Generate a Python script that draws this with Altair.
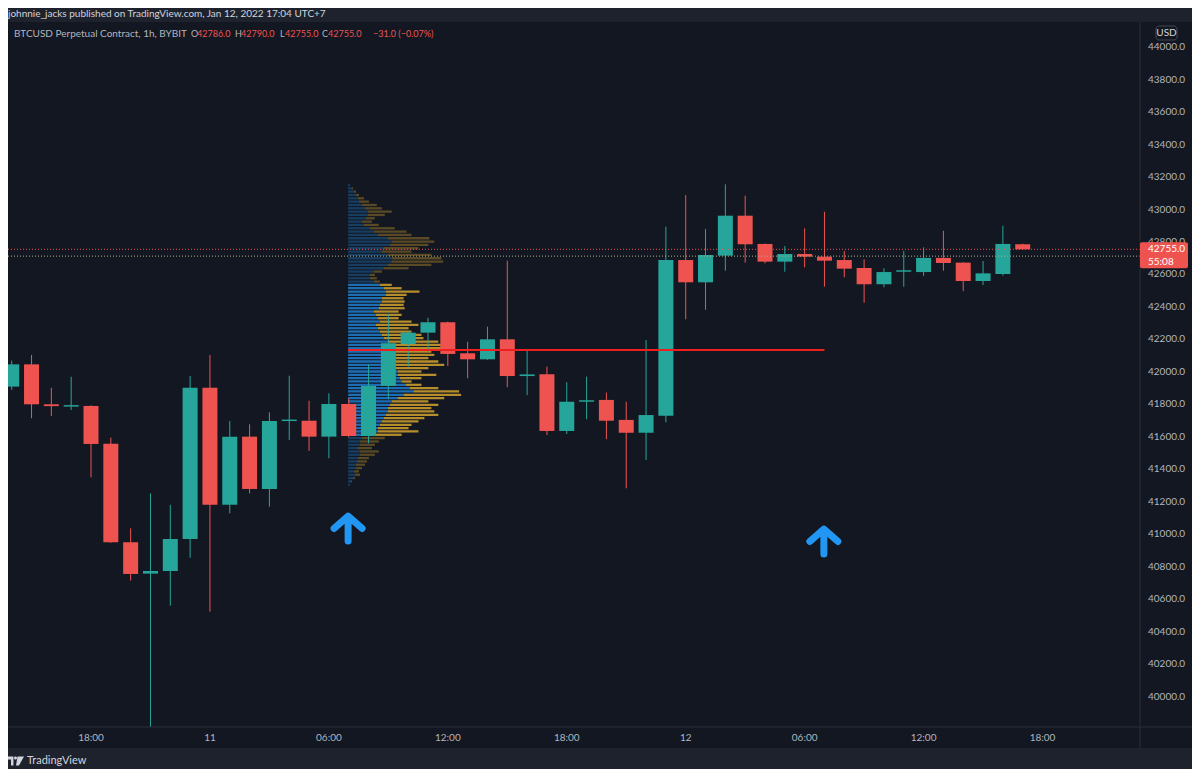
import altair as alt
import pandas as pd

# ------------------------------------------------------------------ data
# hour index relative to 2022-01-11 00:00 (UTC+7), 1h candles
hours = list(range(-10, 42))
opens = [41910, 42047, 41801, 41787, 41791, 41559, 40952, 40759, 40775, 40972,
         41903, 41183, 41602, 41280, 41698, 41700, 41602, 41803, 41606, 41914,
         42172, 42242, 42306, 42115, 42078, 42201, 41975, 41986, 41637, 41817,
         41828, 41705, 41626, 41731, 42689, 42552, 42716, 42962, 42788, 42679,
         42726, 42710, 42689, 42640, 42540, 42617, 42615, 42702, 42673, 42560,
         42603, 42786]
highs = [42070, 42105, 41903, 41971, 41795, 41596, 41038, 41253, 41182, 41975,
         42105, 41698, 41678, 41752, 41977, 41823, 41869, 41838, 42047, 42357,
         42250, 42334, 42310, 42186, 42279, 42685, 42131, 42033, 41937, 41971,
         41873, 41817, 42197, 42894, 43089, 42880, 43155, 43085, 42790, 42775,
         42884, 42986, 42745, 42693, 42638, 42745, 42767, 42869, 42675, 42683,
         42900, 42790]
lows = [41890, 41715, 41729, 41766, 41352, 40948, 40716, 39790, 40562, 40857,
        40525, 41130, 41253, 41171, 41582, 41514, 41469, 41600, 41561, 41832,
        42033, 42125, 42037, 41961, 42075, 41906, 41858, 41612, 41618, 41709,
        41586, 41284, 41458, 41690, 42324, 42382, 42623, 42673, 42669, 42617,
        42644, 42525, 42583, 42426, 42521, 42525, 42591, 42623, 42498, 42535,
        42593, 42755]
closes = [42047, 41801, 41790, 41793, 41557, 40952, 40757, 40775, 40972, 41903,
          41183, 41602, 41280, 41698, 41705, 41602, 41803, 41606, 41914, 42177,
          42242, 42306, 42111, 42078, 42201, 41975, 41985, 41637, 41817, 41822,
          41700, 41626, 41735, 42689, 42552, 42720, 42962, 42786, 42679, 42726,
          42710, 42685, 42636, 42540, 42615, 42620, 42702, 42671, 42560, 42607,
          42788, 42755]

time_tick_hours = [-6, 0, 6, 12, 18, 24, 30, 36, 42]
time_tick_labels = ["18:00", "11", "06:00", "12:00", "18:00", "12", "06:00", "12:00", "18:00"]
price_ticks = [40000, 40200, 40400, 40600, 40800, 41000, 41200, 41400, 41600, 41800,
               42000, 42200, 42400, 42600, 42800, 43000, 43200, 43400, 43600, 43800, 44000]

# visible-range volume profile (top row first), total and up volume per row
profile_total = [2, 5, 8, 11, 16, 21, 29, 34, 44, 37, 27, 24, 31, 47, 59, 64, 82, 87, 81, 71,
                 64, 84, 94, 96, 84, 61, 34, 27, 29, 32,
                 44, 54, 72, 59, 56, 57, 56, 57, 51, 54, 51, 64, 71, 61, 64, 74, 76,
                 91, 94, 94, 84, 87, 81, 91, 97, 81, 74, 89, 74, 64, 74, 91, 112, 114, 97,
                 81, 91, 84, 87, 91, 77, 71, 64, 61, 71, 54,
                 37, 31, 27, 24, 31, 27, 21, 19, 17, 14, 11, 12, 7, 4, 2]
profile_up = [2, 4, 6, 8, 10, 11, 14, 17, 20, 20, 18, 14, 16, 22, 26, 30, 40, 44, 42, 36,
              34, 40, 44, 44, 40, 36, 26, 22, 22, 26,
              32, 36, 38, 38, 34, 34, 32, 31, 26, 28, 30, 32, 28, 30, 32, 34, 36,
              40, 44, 46, 48, 48, 46, 44, 46, 48, 50, 50, 52, 54, 58, 62, 66, 56, 50,
              44, 42, 40, 40, 38, 36, 34, 32, 30, 30, 28,
              14, 12, 12, 10, 12, 12, 10, 9, 8, 8, 6, 7, 5, 3, 2]
PROFILE_TOP = 43151
PROFILE_ROW = 20.5
VA_HIGH, VA_LOW = 42545, 41600
PROFILE_START = 6.97
VOL_TO_HOURS = 0.05

poc = [{"t0": 6.97, "t1": 31.0, "p": 42135}]
price_lines = [{"p": 42755, "c": "#ef5350"}, {"p": 42713, "c": "#b3ac85"}]
arrows = [{"t": 6.97, "p": 41037}, {"t": 30.97, "p": 40957}]
last_price = [{"p": 42755, "l1": "42755.0", "l2": "55:08"}]

header_text = "johnnie_jacks published on TradingView.com, Jan 12, 2022 17:04 UTC+7"
legend_segments = [
    ("BTCUSD Perpetual Contract, 1h, BYBIT", "#b2b5be", 6, 10),
    ("O", "#b2b5be", 183, 9), ("42786.0", "#ef5350", 189, 9),
    ("H", "#b2b5be", 227, 9), ("42790.0", "#ef5350", 233, 9),
    ("L", "#b2b5be", 272, 9), ("42755.0", "#ef5350", 277, 9),
    ("C", "#b2b5be", 314, 9), ("42755.0", "#ef5350", 320, 9),
    ("\u221231.0 (\u22120.07%)", "#ef5350", 365, 9),
]

# ------------------------------------------------------------------ style
W, H = 1132, 705
TEAL, RED = "#26a69a", "#ef5350"
PANE = "#131722"
FRAME = "#1e222d"
LINE = "#2a2e39"
LABEL = "#b2b5be"
FONT = "Lato"

xs = alt.Scale(domain=[-9.935, 46.665], nice=False, zero=False)
ys = alt.Scale(domain=[39815, 44154], nice=False, zero=False)


def X(f, **kw):
    return alt.X(f, scale=xs, axis=None, title=None, **kw)


def Y(f, **kw):
    return alt.Y(f, scale=ys, axis=None, title=None, **kw)


one = alt.Data(values=[{}])

candles = pd.DataFrame(dict(t=hours, open=opens, high=highs, low=lows, close=closes))
prof = pd.DataFrame(dict(i=range(len(profile_total)), total=profile_total, up=profile_up))
prof["p"] = PROFILE_TOP - PROFILE_ROW * prof["i"]

candle_color = alt.condition("datum.close >= datum.open", alt.value(TEAL), alt.value(RED))

pane = alt.Chart(one).mark_rect(color=PANE).encode(
    x=alt.value(0), x2=alt.value(1184), y=alt.value(0), y2=alt.value(726))

prof_base = alt.Chart(prof).transform_calculate(
    x0=f"{PROFILE_START}",
    x1=f"{PROFILE_START} + datum.up * {VOL_TO_HOURS}",
    x2=f"{PROFILE_START} + datum.total * {VOL_TO_HOURS}",
    ylo="datum.p - 7",
    yhi="datum.p + 7",
    va=f"datum.p <= {VA_HIGH} && datum.p >= {VA_LOW}",
)
prof_up = prof_base.mark_rect(color="#2196f3").encode(
    x=X("x0:Q"), x2="x1:Q", y=Y("ylo:Q"), y2="yhi:Q",
    opacity=alt.condition("datum.va", alt.value(0.7), alt.value(0.3)))
prof_down = prof_base.mark_rect(color="#fbc02d").encode(
    x=X("x1:Q"), x2="x2:Q", y=Y("ylo:Q"), y2="yhi:Q",
    opacity=alt.condition("datum.va", alt.value(0.7), alt.value(0.3)))

wicks = alt.Chart(candles).mark_rule(strokeWidth=1, clip=True).encode(
    x=X("t:Q"), y=Y("low:Q"), y2="high:Q", color=candle_color)
bodies = alt.Chart(candles).transform_calculate(
    hi_b="max(datum.open, datum.close)",
    lo_b="min(datum.open, datum.close)",
).transform_calculate(
    hi_b2="datum.hi_b - datum.lo_b < 9 ? datum.lo_b + 9 : datum.hi_b"
).mark_bar(size=15, clip=True).encode(
    x=X("t:Q"), y=Y("lo_b:Q"), y2="hi_b2:Q", color=candle_color)

poc_line = alt.Chart(alt.Data(values=poc)).mark_rule(color="#f01f1f", strokeWidth=2).encode(
    x=X("t0:Q"), x2="t1:Q", y=Y("p:Q"))

dotted = alt.Chart(alt.Data(values=price_lines)).mark_rule(strokeDash=[1, 2], strokeWidth=1).encode(
    y=Y("p:Q"), color=alt.Color("c:N", scale=None))

x_domain = alt.Chart(one).mark_rule(color=LINE).encode(
    x=alt.value(0), x2=alt.value(1184), y=alt.value(H))
y_domain = alt.Chart(one).mark_rule(color=LINE).encode(
    x=alt.value(W), y=alt.value(0), y2=alt.value(726))

x_labels = alt.Chart(pd.DataFrame(dict(t=time_tick_hours, lab=time_tick_labels))).mark_text(
    color=LABEL, fontSize=10, font=FONT, baseline="middle", align="center").encode(
    x=X("t:Q"), y=alt.value(H + 11), text="lab:N")
y_labels = alt.Chart(pd.DataFrame(dict(v=price_ticks))).mark_text(
    color=LABEL, fontSize=10, font=FONT, baseline="middle", align="left").encode(
    x=alt.value(W + 8), y=Y("v:Q"), text=alt.Text("v:Q", format=".1f"))

lp = alt.Chart(alt.Data(values=last_price))
lp_box = lp.mark_rect(color=RED, yOffset=-7, y2Offset=19, cornerRadius=2).encode(
    x=alt.value(W), x2=alt.value(W + 48), y=Y("p:Q"), y2="p:Q")
lp_t1 = lp.mark_text(color="white", fontSize=10, font=FONT, align="left", baseline="middle").encode(
    x=alt.value(W + 8), y=Y("p:Q"), text="l1:N")
lp_t2 = lp.mark_text(color="white", fontSize=10, font=FONT, align="left", baseline="middle", dy=13).encode(
    x=alt.value(W + 8), y=Y("p:Q"), text="l2:N")

ARROW = "M0,0.9 L0,-0.88 M-1,0 L0,-0.88 L1,0"
arrow_marks = alt.Chart(alt.Data(values=arrows)).mark_point(
    shape=ARROW, size=784, filled=False, strokeWidth=7, strokeCap="round",
    strokeJoin="round", color="#2196f3", opacity=1).encode(x=X("t:Q"), y=Y("p:Q"))

usd_box = alt.Chart(one).mark_rect(fill=PANE, stroke="#434651", cornerRadius=3).encode(
    x=alt.value(W + 16), x2=alt.value(W + 37), y=alt.value(4), y2=alt.value(18))
usd_text = alt.Chart(one).mark_text(text="USD", color="#d1d4dc", fontSize=10, font=FONT,
                                    align="center", baseline="middle").encode(
    x=alt.value(W + 26.5), y=alt.value(11))

header = alt.Chart(one).mark_text(text=header_text, color="#d1d4dc", fontSize=10, font=FONT,
                                  align="left", baseline="middle").encode(
    x=alt.value(0), y=alt.value(-8))

legend_layers = [
    alt.Chart(one).mark_text(text=t, color=c, fontSize=fs, font=FONT,
                             align="left", baseline="middle").encode(x=alt.value(px), y=alt.value(12))
    for t, c, px, fs in legend_segments
]

LOGO = ("M-1,-0.53 L-0.24,-0.53 L-0.24,0.53 L-0.53,0.53 L-0.53,-0.18 L-1,-0.18 Z "
        "M-0.18,-0.35 a0.18,0.18 0 1,0 0.36,0 a0.18,0.18 0 1,0 -0.36,0 Z "
        "M0.24,-0.53 L1,-0.53 L0.41,0.53 L0.06,0.53 Z")
logo = alt.Chart(one).mark_point(shape=LOGO, size=289, filled=True, color="#d1d4dc",
                                 opacity=1, strokeWidth=0).encode(x=alt.value(7.5), y=alt.value(739))
logo_text = alt.Chart(one).mark_text(text="TradingView", color="#d1d4dc", fontSize=11, font=FONT,
                                     align="left", baseline="middle").encode(
    x=alt.value(19), y=alt.value(739))

chart = alt.layer(
    pane, prof_up, prof_down, wicks, bodies, poc_line, dotted,
    x_domain, y_domain, x_labels, y_labels, lp_box, lp_t1, lp_t2,
    arrow_marks, usd_box, usd_text, header, *legend_layers, logo, logo_text,
).properties(
    width=W, height=H,
    padding={"left": 0, "top": 14, "right": 52, "bottom": 42},
    autosize=alt.AutoSizeParams(type="none"),
    background=FRAME,
).configure_view(stroke=None)

chart.save("out.html", embed_options={"renderer": "svg", "actions": False})
